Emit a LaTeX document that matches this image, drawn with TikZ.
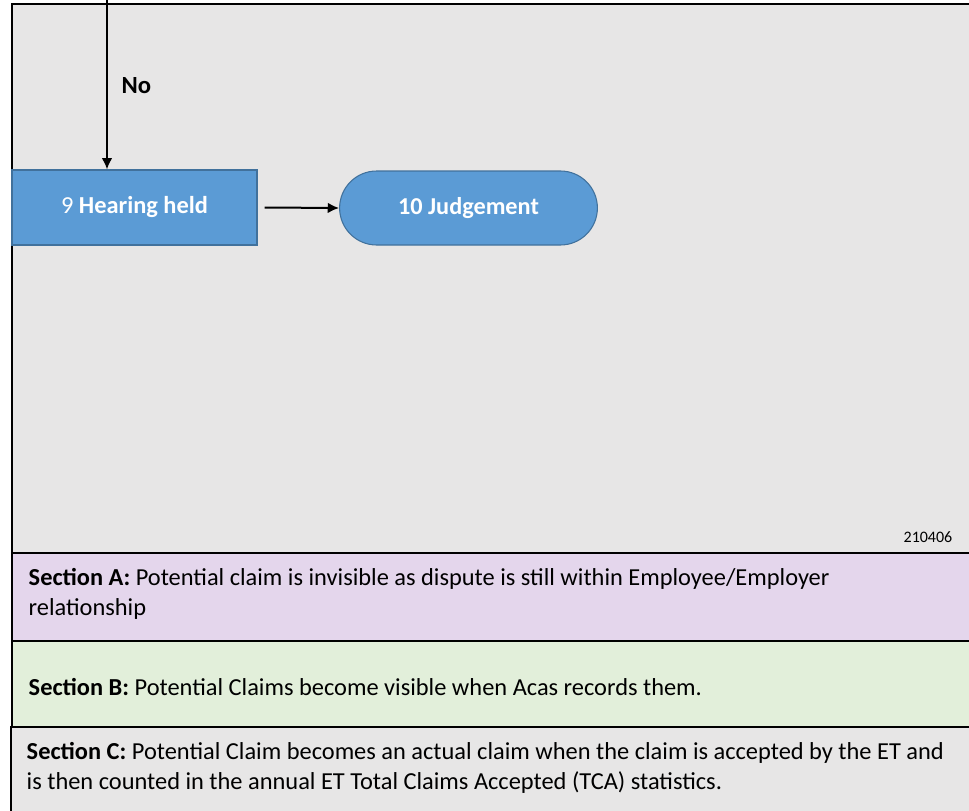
\documentclass[tikz,border=0pt]{standalone}
\usepackage{fontspec}
\setmainfont{Carlito}
\usetikzlibrary{arrows.meta,positioning,shapes.misc}
\definecolor{panel}{HTML}{E7E6E6}
\definecolor{secA}{HTML}{E4D6EC}
\definecolor{secB}{HTML}{E2EFDA}
\definecolor{stepfill}{HTML}{5B9BD5}
\definecolor{stepline}{HTML}{41719C}

\begin{document}
\begin{tikzpicture}[x=0.75pt,y=-0.75pt,>={Latex[length=8.5pt,width=8pt]},
  band/.style={draw=black,line width=1.2pt},
  stepbox/.style={rectangle,draw=stepline,fill=stepfill,line width=0.8pt,
    minimum width=183.75pt,minimum height=56.25pt,text=white,font=\fontsize{18.3}{20}\selectfont},
  endbox/.style={rounded rectangle,draw=stepline,fill=stepfill,line width=0.8pt,
    minimum width=200pt,minimum height=55.5pt,text=white,font=\fontsize{18.2}{20}\selectfont\bfseries},
  flow/.style={->,line width=1.5pt},
  note/.style={anchor=west,align=left,font=\fontsize{18.3}{22.2}\selectfont}]
  \useasboundingbox (0,0) rectangle (969,810);
  % background bands
  \draw[band,fill=panel] (12,4) rectangle (990,553);
  \draw[band,fill=secA] (12,553) rectangle (990,641);
  \draw[band,fill=secB] (12,641) rectangle (990,727);
  \draw[band,fill=panel] (11,727) rectangle (990,820);
  % flow
  \coordinate (top) at (107,0);
  \node[stepbox] (hearing) at (134.5,207.5) {9 \textbf{Hearing held}};
  \node[endbox] (judge) at (468.5,208) {10 Judgement};
  \draw[flow] (top) -- (top |- hearing.north);
  \node[font=\fontsize{18.5}{20}\selectfont\bfseries,anchor=west] (no) at (117,86) {No};
  \draw[flow] ([xshift=5.25pt]hearing.east) -- (judge.west);
  % labels
  \node[font=\fontsize{12}{14}\selectfont,anchor=east] (code) at (957,537) {210406};
  \node[note] (secAtxt) at (24,594) {\textbf{Section A:} Potential claim is invisible as dispute is still within Employee/Employer\\relationship};
  \node[note] (secBtxt) at (24,687) {\textbf{Section B:} Potential Claims become visible when Acas records them.};
  \node[note] (secCtxt) at (22,768) {\textbf{Section C:} Potential Claim becomes an actual claim when the claim is accepted by the ET and\\is then counted in the annual ET Total Claims Accepted (TCA) statistics.};
\end{tikzpicture}
\end{document}
